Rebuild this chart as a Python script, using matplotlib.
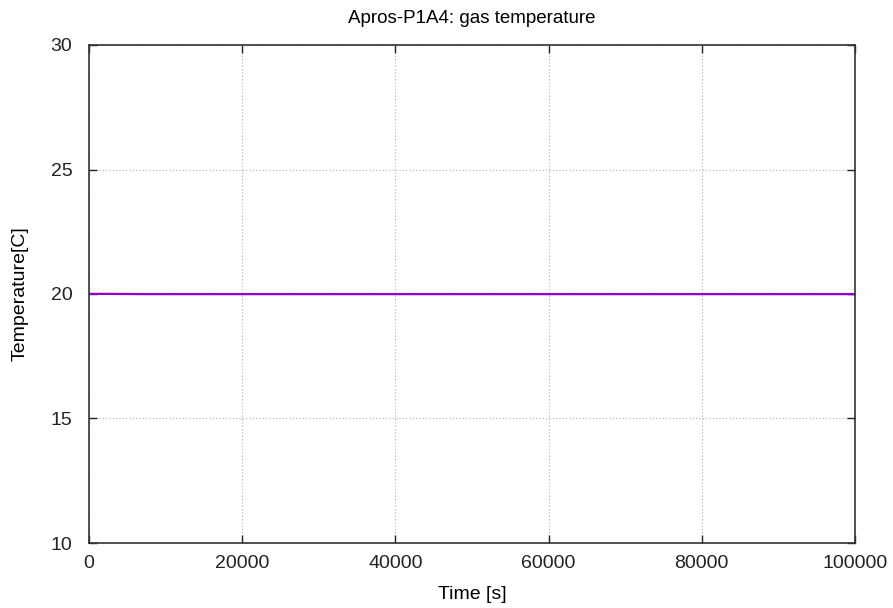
import matplotlib
matplotlib.use("Agg")
import matplotlib.pyplot as plt

plt.rcParams['font.family'] = ['Liberation Sans', 'DejaVu Sans']

# Gas temperature history
time_s = [0, 3000, 7000, 20000, 40000, 60000, 80000, 100000]
gas_temp_c = [20.006, 20.004, 19.995, 19.995, 19.995, 19.995, 19.995, 19.995]

x_ticks = [0, 20000, 40000, 60000, 80000, 100000]
y_ticks = [10, 15, 20, 25, 30]

fig = plt.figure(figsize=(8.93, 6.08), dpi=100)
ax = fig.add_axes([89/893, 1-543/608, (855-89)/893, (543-45)/608])

ax.plot(time_s, gas_temp_c, color='#9400d3', linewidth=1.6)

ax.set_xlim(0, 100000)
ax.set_ylim(10, 30)
ax.set_xticks(x_ticks)
ax.set_yticks(y_ticks)
ax.tick_params(direction='in', top=True, right=True, length=6, width=1,
               labelsize=14, color='#222222', labelcolor='#222222')
ax.tick_params(axis='y', pad=12)
ax.tick_params(axis='x', pad=9)
for s in ax.spines.values():
    s.set_color('#333333')
    s.set_linewidth(1.2)
ax.grid(True, color='#b0b0b0', linestyle=(0, (1, 2)), linewidth=0.8)

ax.set_title('Apros-P1A4: gas temperature', fontsize=13.5, pad=16)
ax.set_xlabel('Time [s]', fontsize=14, labelpad=10)
ax.set_ylabel('Temperature[C]', fontsize=14, labelpad=16)

fig.savefig('out.png', dpi=100)
